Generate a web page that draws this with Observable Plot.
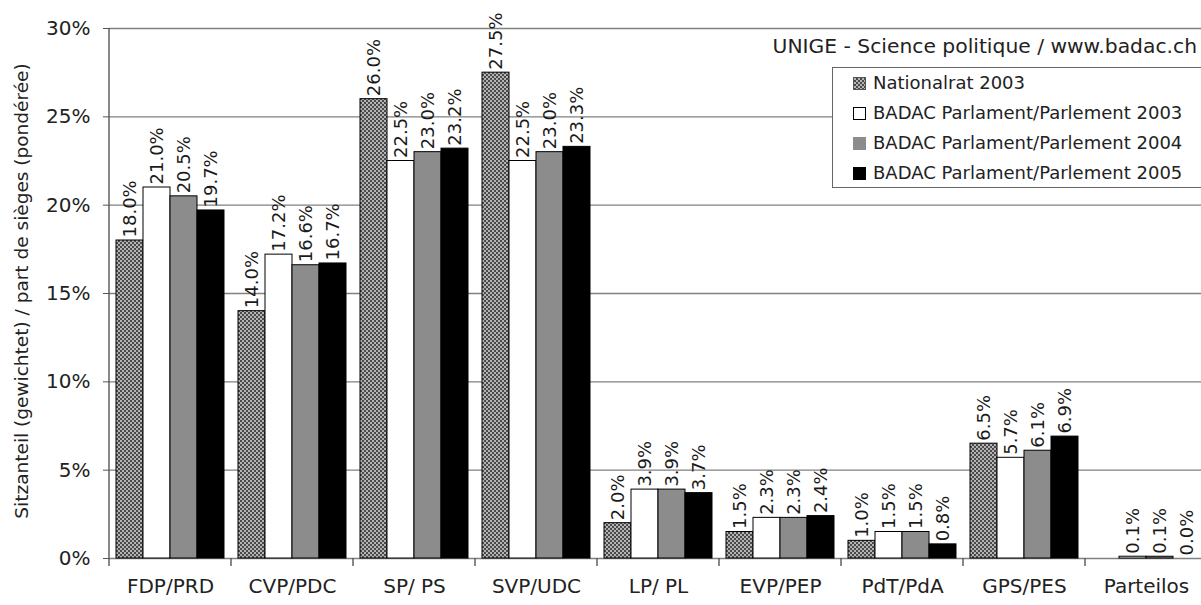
<!DOCTYPE html>
<html>
<head>
<meta charset="utf-8">
<script src="https://cdn.jsdelivr.net/npm/d3@7"></script>
<script src="https://cdn.jsdelivr.net/npm/@observablehq/plot@0.6"></script>
<style>
  body { margin: 0; background: #fff; }
  #wrap { position: relative; width: 1201px; height: 605px; overflow: hidden; background: #fff;
          font-family: "DejaVu Sans", "Verdana", sans-serif; color: #222; }
  #wrap svg { position: absolute; left: 0; top: 0; }
  #ytitle { position: absolute; left: 21px; top: 291px; transform: translate(-50%, -50%) rotate(-90deg);
            white-space: nowrap; font-size: 18.5px; }
  #credit { position: absolute; right: 4px; top: 33px; font-size: 20.3px; white-space: nowrap; line-height: 26px; }
  #legend { position: absolute; left: 832px; top: 67px; width: 420px; height: 121px; box-sizing: border-box;
            border: 1px solid #666; background: #fff; }
  .entry { position: absolute; left: 20px; height: 30px; line-height: 30px; font-size: 18px; white-space: nowrap; }
  .sw { display: inline-block; width: 13px; height: 13px; box-sizing: border-box; border: 1px solid #000;
        vertical-align: -1px; margin-right: 7px; }
</style>
</head>
<body>
<div id="wrap"></div>
<script>
// ---- data ----
const parties = ["FDP/PRD", "CVP/PDC", "SP/ PS", "SVP/UDC", "LP/ PL", "EVP/PEP", "PdT/PdA", "GPS/PES", "Parteilos"];
const series = ["Nationalrat 2003", "BADAC Parlament/Parlement 2003", "BADAC Parlament/Parlement 2004", "BADAC Parlament/Parlement 2005"];
const nationalrat2003 = [18.0, 14.0, 26.0, 27.5, 2.0, 1.5, 1.0, 6.5, null];
const badac2003 = [21.0, 17.2, 22.5, 22.5, 3.9, 2.3, 1.5, 5.7, 0.1];
const badac2004 = [20.5, 16.6, 23.0, 23.0, 3.9, 2.3, 1.5, 6.1, 0.1];
const badac2005 = [19.7, 16.7, 23.2, 23.3, 3.7, 2.4, 0.8, 6.9, 0.0];
const yTicks = [0, 5, 10, 15, 20, 25, 30];
const yTitle = "Sitzanteil (gewichtet) / part de sièges (pondérée)";
const credit = "UNIGE - Science politique / www.badac.ch";

const seriesValues = [nationalrat2003, badac2003, badac2004, badac2005];
const rows = [];
parties.forEach((p, i) => series.forEach((s, j) => {
  const v = seriesValues[j][i];
  if (v != null) rows.push({party: p, series: s, value: v});
}));

const fills = ["url(#hatch)", "#ffffff", "#8c8c8c", "#000000"];
const font = "'DejaVu Sans', Verdana, sans-serif";

const plot = Plot.plot({
  width: 1201,
  height: 605,
  marginLeft: 107,
  marginRight: 0,
  marginTop: 28,
  marginBottom: 47,
  style: {fontFamily: font, fontSize: "20px", color: "#222", background: "transparent", overflow: "visible"},
  fx: {domain: parties, range: [107, 1209], paddingInner: 0, paddingOuter: 0, label: null},
  x: {domain: series, paddingInner: 0, paddingOuter: 0.225, axis: null},
  y: {domain: [0, 30], label: null},
  color: {type: "ordinal", domain: series, range: fills},
  marks: [
    // horizontal gridlines spanning the whole plot
    Plot.axisY(yTicks, {tickSize: -1102, tickFormat: () => "", stroke: "#808080", strokeWidth: 1.4, strokeOpacity: 1, label: null}),
    Plot.axisY(yTicks, {tickSize: 6, tickPadding: 13, tickFormat: d => d + "%", stroke: "#555", strokeOpacity: 1, fontSize: 20, fill: "#222", label: null}),
    Plot.axisFx({anchor: "bottom", tickSize: 0, tickPadding: 20, fontSize: 20, fill: "#222", label: null}),
    Plot.barY(rows, {fx: "party", x: "series", y: "value", fill: "series", stroke: "#000", strokeWidth: 1}),
    Plot.text(rows, {fx: "party", x: "series", y: "value", text: d => d.value.toFixed(1) + "%",
      rotate: -90, textAnchor: "start", lineAnchor: "middle", dy: -3, fontSize: 18, fill: "#1a1a1a"})
  ]
});

// pattern for Nationalrat bars
const svg = d3.select(plot);
const defs = svg.insert("defs", ":first-child");
const pat = defs.append("pattern").attr("id", "hatch").attr("patternUnits", "userSpaceOnUse")
  .attr("width", 4).attr("height", 4);
pat.append("rect").attr("width", 4).attr("height", 4).attr("fill", "#b4b4b4");
pat.append("rect").attr("width", 2).attr("height", 2).attr("fill", "#4a4a4a");
pat.append("rect").attr("x", 2).attr("y", 2).attr("width", 2).attr("height", 2).attr("fill", "#4a4a4a");

// y axis line and category boundary ticks, from the plot's scales
const fx = plot.scale("fx"), y = plot.scale("y");
const bounds = parties.map(p => fx.apply(p)).concat([fx.apply(parties[parties.length - 1]) + fx.bandwidth]);
const g = svg.append("g").attr("stroke", "#555").attr("stroke-width", 1.4);
g.append("line").attr("x1", bounds[0]).attr("x2", bounds[0]).attr("y1", y.apply(0)).attr("y2", y.apply(30));
g.selectAll(".bt").data(bounds).join("line")
  .attr("x1", d => d).attr("x2", d => d).attr("y1", y.apply(0)).attr("y2", y.apply(0) + 8);

const wrap = document.getElementById("wrap");
wrap.appendChild(plot);

const yt = document.createElement("div"); yt.id = "ytitle"; yt.textContent = yTitle; wrap.appendChild(yt);
const cr = document.createElement("div"); cr.id = "credit"; cr.textContent = credit; wrap.appendChild(cr);

const lg = document.createElement("div"); lg.id = "legend";
const swatchCss = [
  "background: repeating-conic-gradient(#4a4a4a 0 25%, #b4b4b4 0 50%) 0 0/4px 4px; border-color:#555;",
  "background:#fff;", "background:#8c8c8c; border-color:#8c8c8c;", "background:#000;"
];
series.forEach((s, j) => {
  const e = document.createElement("div");
  e.className = "entry";
  e.style.top = (j * 30) + "px";
  const sw = document.createElement("span"); sw.className = "sw"; sw.style.cssText = swatchCss[j];
  e.appendChild(sw);
  e.appendChild(document.createTextNode(s));
  lg.appendChild(e);
});
wrap.appendChild(lg);
</script>
</body>
</html>
